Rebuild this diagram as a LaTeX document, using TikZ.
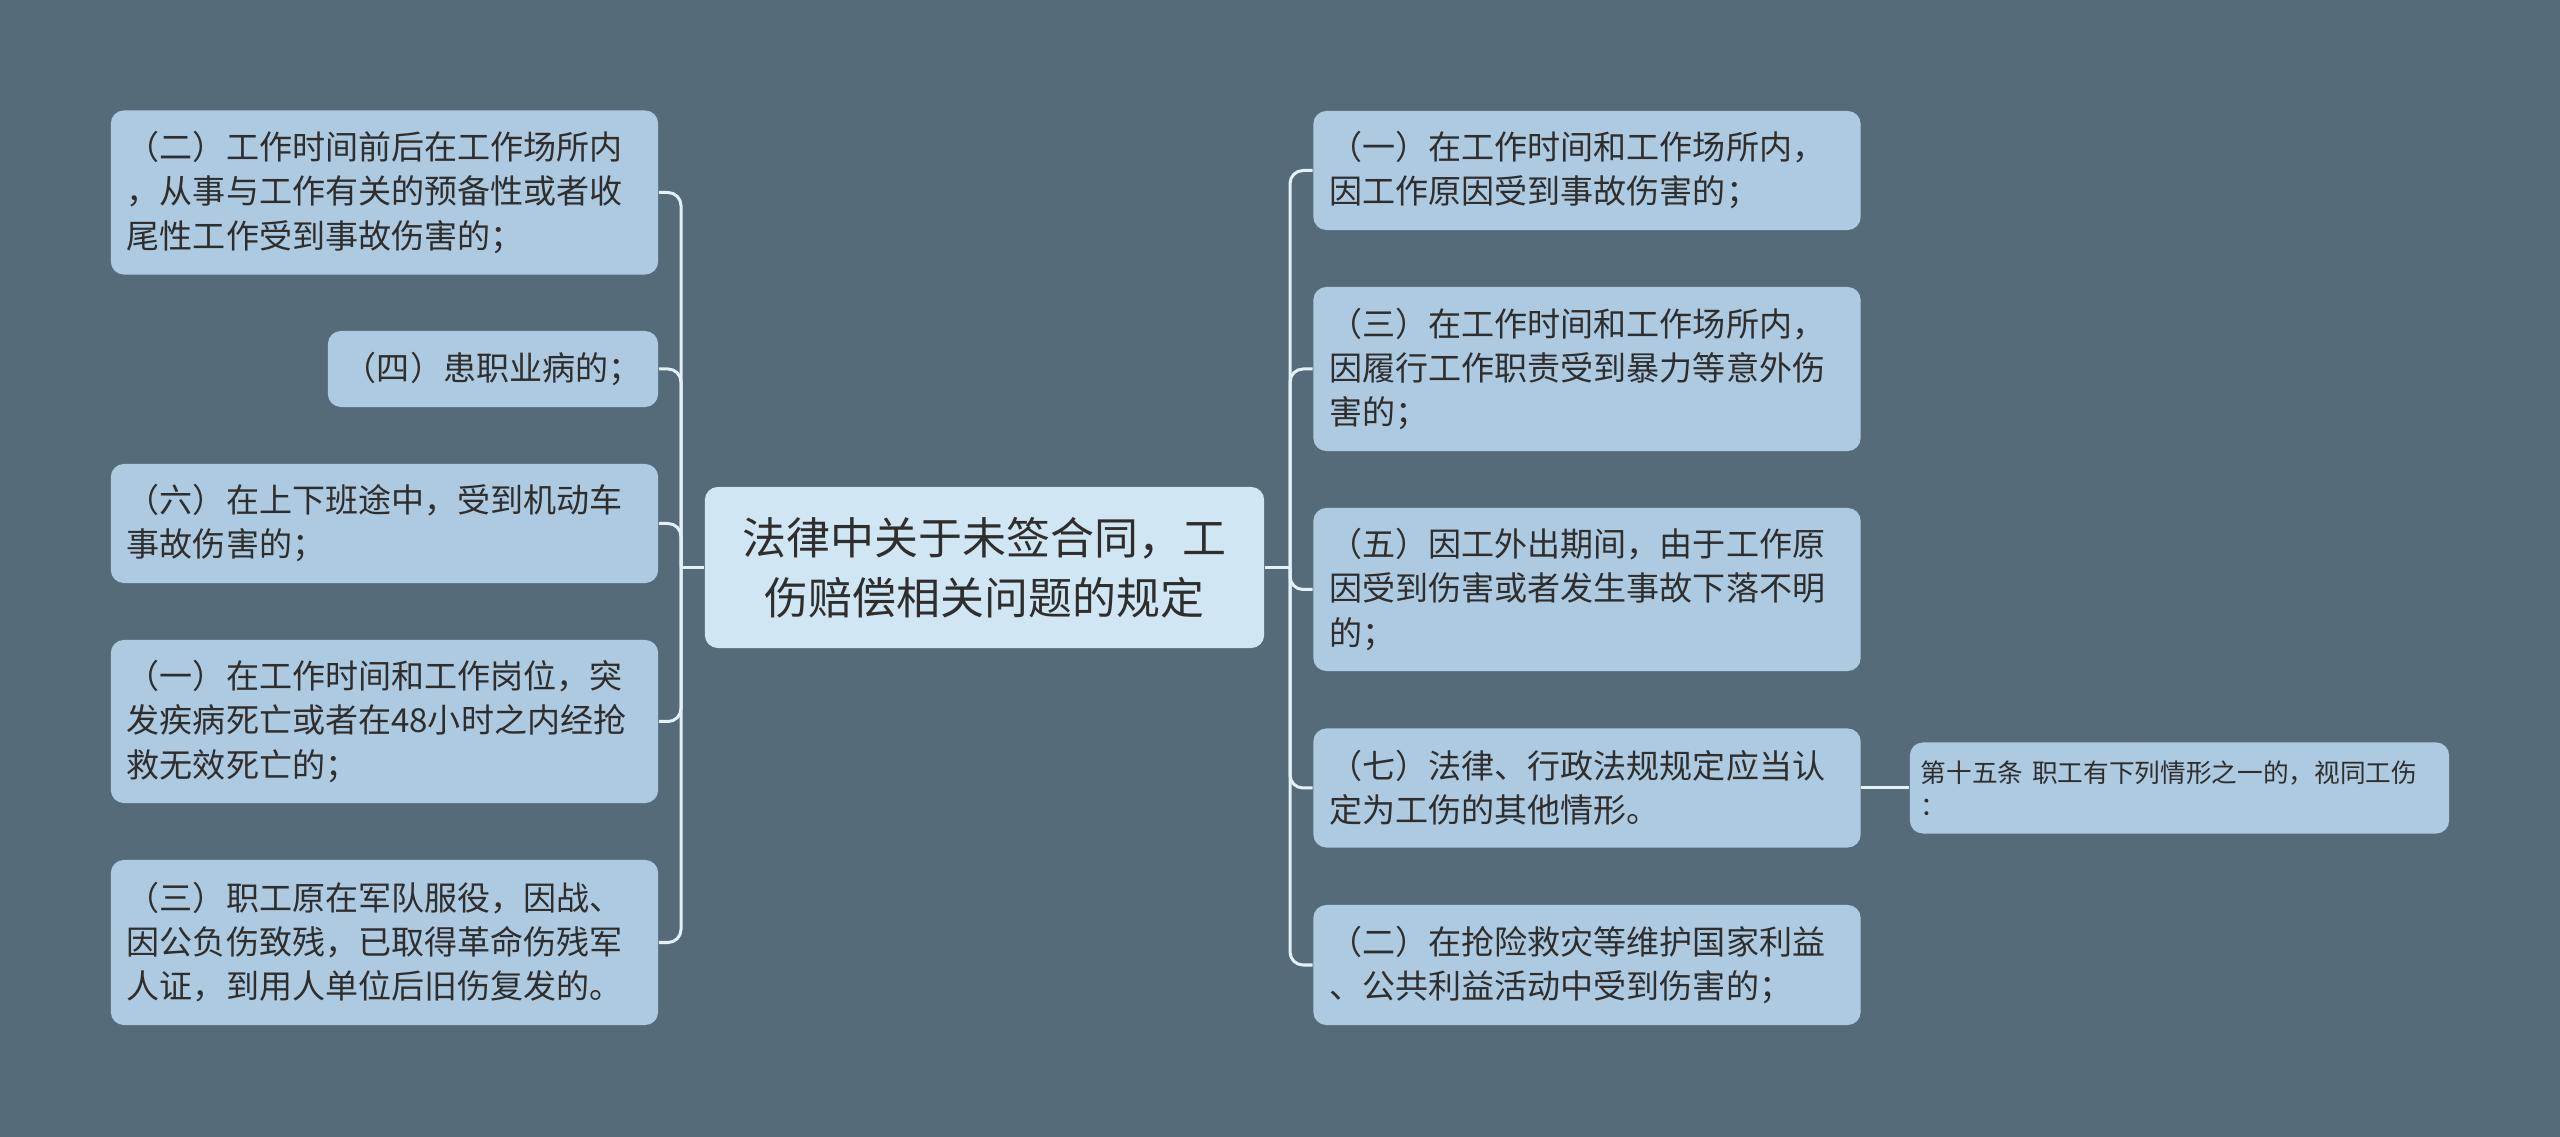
\documentclass[tikz,border=0pt]{standalone}
\usepackage{fontspec}
\newfontfamily\cjk{Noto Sans CJK SC}
\usepackage{tikz}
\usetikzlibrary{positioning}
\definecolor{bgcol}{HTML}{566B7A}
\definecolor{leafcol}{HTML}{AECAE0}
\definecolor{rootcol}{HTML}{D0E6F2}
\definecolor{linecol}{HTML}{E2F0F8}
\definecolor{textcol}{HTML}{2E2E2E}
\tikzstyle{leaf} = [fill=leafcol, rounded corners=0.13cm, text=textcol, align=left,
                    text width=5.15cm, inner xsep=0.16cm, inner ysep=0,
                    font=\cjk\fontsize{9.4}{12.52}\selectfont]
\tikzstyle{root} = [fill=rootcol, rounded corners=0.13cm, text=textcol, align=center,
                    minimum width=5.59cm, minimum height=1.61cm, inner sep=0,
                    font=\cjk\fontsize{12.5}{17.07}\selectfont]
\tikzstyle{note} = [leaf, text width=5.17cm, inner xsep=0.11cm,
                    font=\cjk\fontsize{7.3}{9.4}\selectfont]
\tikzstyle{branch} = [draw=linecol, line width=0.03cm, rounded corners=0.13cm]

\begin{document}
\begin{tikzpicture}[x=0.01cm, y=-0.01cm]
				\fill[bgcol] (0, 0) rectangle (2560, 1137);
				\useasboundingbox (0, 0) rectangle (2560, 1137);

				\node (Root) [root] at (984.5, 567.5) {法律中关于未签合同，工\\伤赔偿相关问题的规定};

				% left side
				\node (L1) [leaf, minimum height=1.64cm] at (384.5, 192.5) {（二）工作时间前后在工作场所内\\，从事与工作有关的预备性或者收\\尾性工作受到事故伤害的；};
				\node (L2) [leaf, text width=2.98cm, minimum height=0.76cm] at (493, 369) {（四）患职业病的；};
				\node (L3) [leaf, minimum height=1.19cm] at (384.5, 523.5) {（六）在上下班途中，受到机动车\\事故伤害的；};
				\node (L4) [leaf, minimum height=1.63cm] at (384.5, 721.5) {（一）在工作时间和工作岗位，突\\发疾病死亡或者在48小时之内经抢\\救无效死亡的；};
				\node (L5) [leaf, minimum height=1.65cm] at (384.5, 942.5) {（三）职工原在军队服役，因战、\\因公负伤致残，已取得革命伤残军\\人证，到用人单位后旧伤复发的。};

				\coordinate (LTrunk) at (681, 567.5);
				\draw [branch] (Root.west) -- (LTrunk);
				\foreach \leafname in {L1, L2, L3, L4, L5}
					\draw [branch] (LTrunk) |- (\leafname.east);

				% right side
				\node (R1) [leaf, minimum height=1.19cm] at (1587, 170.5) {（一）在工作时间和工作场所内，\\因工作原因受到事故伤害的；};
				\node (R2) [leaf, minimum height=1.64cm] at (1587, 369) {（三）在工作时间和工作场所内，\\因履行工作职责受到暴力等意外伤\\害的；};
				\node (R3) [leaf, minimum height=1.63cm] at (1587, 589.5) {（五）因工外出期间，由于工作原\\因受到伤害或者发生事故下落不明\\的；};
				\node (R4) [leaf, minimum height=1.19cm] at (1587, 788) {（七）法律、行政法规规定应当认\\定为工伤的其他情形。};
				\node (R5) [leaf, minimum height=1.20cm] at (1587, 965) {（二）在抢险救灾等维护国家利益\\、公共利益活动中受到伤害的；};

				\coordinate (RTrunk) at (1290, 567.5);
				\draw [branch] (Root.east) -- (RTrunk);
				\foreach \leafname in {R1, R2, R3, R4, R5}
					\draw [branch] (RTrunk) |- (\leafname.west);

				% article note
				\node (Note) [note, minimum height=0.91cm] at (2179.5, 788) {第十五条 职工有下列情形之一的，视同工伤\\：};
				\draw [branch] (R4.east) -- (Note.west);
			\end{tikzpicture}
\end{document}
